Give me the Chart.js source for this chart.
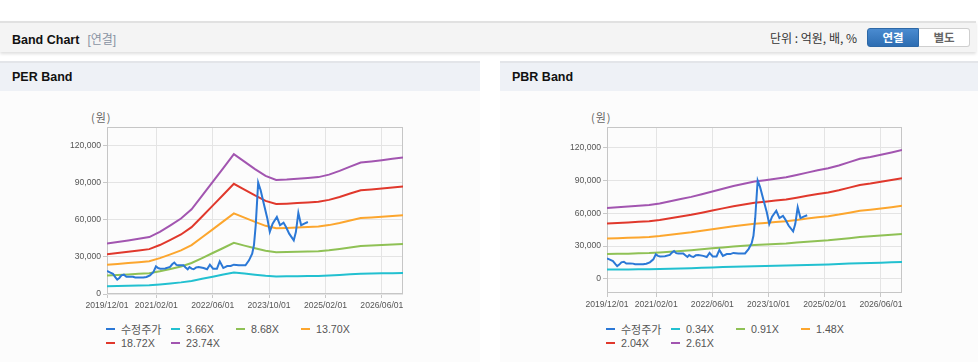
<!DOCTYPE html>
<html><head><meta charset="utf-8">
<script src="https://cdn.jsdelivr.net/npm/chart.js@4.4.1/dist/chart.umd.min.js"></script>
<style>
html,body{margin:0;padding:0}
body{width:978px;height:362px;background:#fff;position:relative;overflow:hidden;font-family:"Liberation Sans",Arial,"Noto Sans CJK KR",sans-serif;color:#222}
.topbar{position:absolute;left:0;top:21px;width:976px;height:29px;background:#f4f4f4;border-top:2px solid #e1e1e1;box-shadow:0 2px 3px rgba(0,0,0,0.13)}
.title{position:absolute;left:12px;top:7px;font-weight:bold;font-size:12.5px;color:#111}
.title span{font-weight:normal;color:#8a93a3;font-size:12px;margin-left:8px}
.unit{position:absolute;left:770px;top:7px;font-size:12px;color:#333;font-family:"Noto Sans CJK KR","Liberation Sans",sans-serif;line-height:15px}
.btns{position:absolute;left:867px;top:5px;height:19px;display:flex}
.btn{width:50px;height:17px;line-height:17px;text-align:center;font-weight:bold;font-size:11.5px;font-family:"Noto Sans CJK KR",sans-serif;box-sizing:content-box}
.on{background:linear-gradient(#4a8bd0,#2d6db2);color:#fff;border:1px solid #2d68a6;border-radius:3px 0 0 3px}
.off{background:#fff;color:#666;border:1px solid #cfcfcf;border-left:none;border-radius:0 3px 3px 0}
.panel{position:absolute;top:61px;height:301px;background:#fcfcfc}
.phead{height:28px;background:#eef1f6;border-top:2px solid #e3e5e9;position:relative}
.phead div{position:absolute;left:12px;top:7px;font-weight:bold;font-size:12.5px;color:#111}
canvas{position:absolute;top:39px;left:0}
.unitlbl{position:absolute;top:48px;font-size:11px;color:#666;letter-spacing:1px;font-family:"Noto Sans CJK KR",sans-serif}
.legend{position:absolute;top:261px;display:grid;grid-template-columns:65px 65px 65px 65px;font-size:10.7px;color:#555;line-height:14px}
.legend div{white-space:nowrap;display:flex;align-items:center}
.legend i{display:inline-block;width:9px;height:2px;margin-right:6px}
.legend span.k{font-family:"Noto Sans CJK KR",sans-serif;font-size:11px}
</style></head>
<body>
<div class="topbar">
  <div class="title">Band Chart<span>[연결]</span></div>
  <div class="unit">단위 : 억원, 배, %</div>
  <div class="btns"><div class="btn on">연결</div><div class="btn off">별도</div></div>
</div>
<div class="panel" style="left:0;width:480px">
  <div class="phead"><div>PER Band</div></div>
  <div class="unitlbl" style="left:91px">(원)</div>
  <canvas id="per" width="480" height="215"></canvas>
  <div class="legend" id="perLegend" style="left:106px"></div>
</div>
<div class="panel" style="left:500px;width:478px">
  <div class="phead"><div>PBR Band</div></div>
  <div class="unitlbl" style="left:91px">(원)</div>
  <canvas id="pbr" width="478" height="215"></canvas>
  <div class="legend" id="pbrLegend" style="left:106px"></div>
</div>
<script>
// x axis: months counted from 2019/12/01
const tickMonths = [0, 14, 30, 46, 62, 78];
const tickLabels = ['2019/12/01','2021/02/01','2022/06/01','2023/10/01','2025/02/01','2026/06/01'];
const yTicks = [0, 30000, 60000, 90000, 120000];

// 수정주가 (adjusted price)
const priceMonths = [0,0.8,1.7,2.4,2.9,3.5,4.1,4.8,5.5,6.5,7.4,8.0,9.3,10.3,11.2,12.2,13.2,13.9,14.5,15.1,16.5,17.9,18.5,19.1,19.7,20.3,21.7,22.3,22.9,23.4,24.0,24.6,25.3,26.0,27.4,28.4,29.2,30.1,31.2,32.0,33.0,34.1,35.1,36.0,37.4,38.5,39.3,40.3,41.2,41.7,42.2,42.9,43.6,44.6,45.5,46.2,47.0,48.2,49.1,50.1,50.8,51.7,53.0,53.6,54.3,55.1,56.0,57.0];
const priceValues = [18600,17500,16300,13500,11600,13000,15100,15600,14000,14000,13900,13300,13300,13300,13800,15100,17800,22400,21000,20500,20700,21900,24000,25400,23500,23200,23200,21500,20000,21800,20500,20000,21500,21800,21000,20000,23700,20500,20500,26400,21000,22600,22600,23700,23200,23200,23200,27200,32600,39400,55500,90000,83900,71700,61000,50200,56900,62300,55600,57700,54200,48800,43400,50100,65500,55600,56900,58200];

const bandMonths = [0,3,6,9,12,15,18,21,24,27,30,33,36,39,42,45,48,51,54,57,60,63,66,69,72,75,78,81,84];

// PER bands
const perNames = ['3.66X','8.68X','13.70X','18.72X','23.74X'];
const per366  = [6290,6480,6680,6880,7090,7740,8560,9400,10560,12260,13970,15680,17420,16500,15570,14720,14210,14280,14370,14460,14570,14880,15340,15880,16390,16530,16680,16850,17010];
const per868  = [14920,15360,15840,16310,16820,18350,20290,22300,25050,29070,33130,37190,41320,39120,36930,34920,33710,33860,34080,34300,34550,35280,36380,37660,38870,39200,39560,39960,40330];
const per1370 = [23550,24240,24990,25740,26550,28970,32030,35200,39530,45880,52280,58690,65210,61750,58290,55110,53210,53440,53790,54130,54530,55690,57420,59440,61350,61860,62440,63070,63650];
const per1872 = [32170,33120,34150,35170,36270,39580,43760,48100,54010,62690,71440,80190,89100,84370,79640,75300,72700,73010,73490,73960,74510,76090,78460,81210,83820,84520,85310,86180,86970];
const per2374 = [40800,42000,43300,44600,46000,50200,55500,61000,68500,79500,90600,101700,113000,107000,101000,95500,92200,92600,93200,93800,94500,96500,99500,103000,106300,107200,108200,109300,110300];

// PBR bands
const pbrNames = ['0.34X','0.91X','1.48X','2.04X','2.61X'];
const pbr034 = [8460,8530,8610,8700,8800,8990,9250,9510,9770,10100,10420,10750,11080,11340,11600,11770,11950,12120,12380,12670,12950,13190,13520,13920,14320,14540,14800,15080,15360];
const pbr091 = [22630,22840,23050,23290,23540,24060,24760,25460,26150,27020,27900,28770,29640,30340,31030,31490,31980,32430,33130,33890,34660,35290,36190,37240,38320,38920,39610,40350,41110];
const pbr148 = [36800,37140,37480,37880,38270,39120,40260,41390,42530,43940,45360,46780,48200,49330,50460,51200,51990,52730,53870,55110,56360,57380,58850,60560,62310,63280,64410,65600,66850];
const pbr204 = [50730,51190,51660,52210,52760,53930,55490,57060,58620,60570,62530,64480,66440,68000,69560,70580,71670,72690,74250,75970,77690,79100,81130,83480,85900,87230,88790,90430,92150];
const pbr261 = [64900,65500,66100,66800,67500,69000,71000,73000,75000,77500,80000,82500,85000,87000,89000,90300,91700,93000,95000,97200,99400,101200,103800,106800,109900,111600,113600,115700,117900];

const colors = ['#2b78d6','#22c0d0','#8fc155','#fca62e','#e0382c','#a255b0'];

Chart.defaults.font.family = "'Liberation Sans', Arial, sans-serif";

const frame = {
  id: 'frame',
  beforeDatasetsDraw(c) {
    const a = c.chartArea, ctx = c.ctx;
    ctx.save();
    ctx.strokeStyle = '#c6c6c6';
    ctx.lineWidth = 1;
    ctx.strokeRect(Math.round(a.left) + 0.5, Math.round(a.top) + 0.5, Math.round(a.right - a.left) - 1, Math.round(a.bottom - a.top) - 1);
    ctx.restore();
  }
};

function build(canvasId, legendId, names, bands, yMin, yMax, rightPad, xH) {
  const datasets = [{label: '수정주가', data: priceMonths.map((m, i) => ({x: m, y: priceValues[i]}))}];
  bands.forEach((b, k) => datasets.push({label: names[k], data: bandMonths.map((m, i) => ({x: m, y: b[i]}))}));
  datasets.forEach((d, i) => { d.borderColor = colors[i]; d.backgroundColor = colors[i]; d.borderWidth = 2; d.pointRadius = 0; d.fill = false; d.tension = 0; });
  new Chart(document.getElementById(canvasId), {
    type: 'line',
    data: {datasets},
    options: {
      responsive: false, animation: false, devicePixelRatio: 1,
      layout: {padding: {left: 0, right: rightPad, top: 27, bottom: 0}},
      plugins: {legend: {display: false}, tooltip: {enabled: false}},
      scales: {
        x: {
          type: 'linear', min: 0, max: 84,
          afterBuildTicks: s => { s.ticks = tickMonths.map(v => ({value: v})); },
          afterFit: s => { s.height = xH; },
          ticks: {callback: v => { const i = tickMonths.indexOf(v); return i >= 0 ? tickLabels[i] : ''; }, maxRotation: 0, autoSkip: false, color: '#555', font: {size: 8.6}, padding: 2},
          grid: {color: '#e4e4e4', tickLength: 4, tickColor: '#c8c8c8'},
          border: {display: false}
        },
        y: {
          min: yMin, max: yMax,
          afterBuildTicks: s => { s.ticks = yTicks.map(v => ({value: v})); },
          afterFit: s => { s.width = 107; },
          ticks: {callback: v => v.toLocaleString('en-US'), color: '#555', font: {size: 8.6}, padding: 2},
          grid: {color: '#e4e4e4', tickLength: 4, tickColor: '#c8c8c8'},
          border: {display: false}
        }
      }
    },
    plugins: [frame]
  });
  const lg = document.getElementById(legendId);
  datasets.forEach((d, i) => {
    const el = document.createElement('div');
    el.innerHTML = '<i style="background:' + colors[i] + '"></i><span' + (i === 0 ? ' class="k"' : '') + '>' + d.label + '</span>';
    lg.appendChild(el);
  });
}

build('per', 'perLegend', perNames, [per366, per868, per1370, per1872, per2374], 0, 135000, 77, 21);
build('pbr', 'pbrLegend', pbrNames, [pbr034, pbr091, pbr148, pbr204, pbr261], -13000, 139000, 76, 22);
</script>
</body></html>
